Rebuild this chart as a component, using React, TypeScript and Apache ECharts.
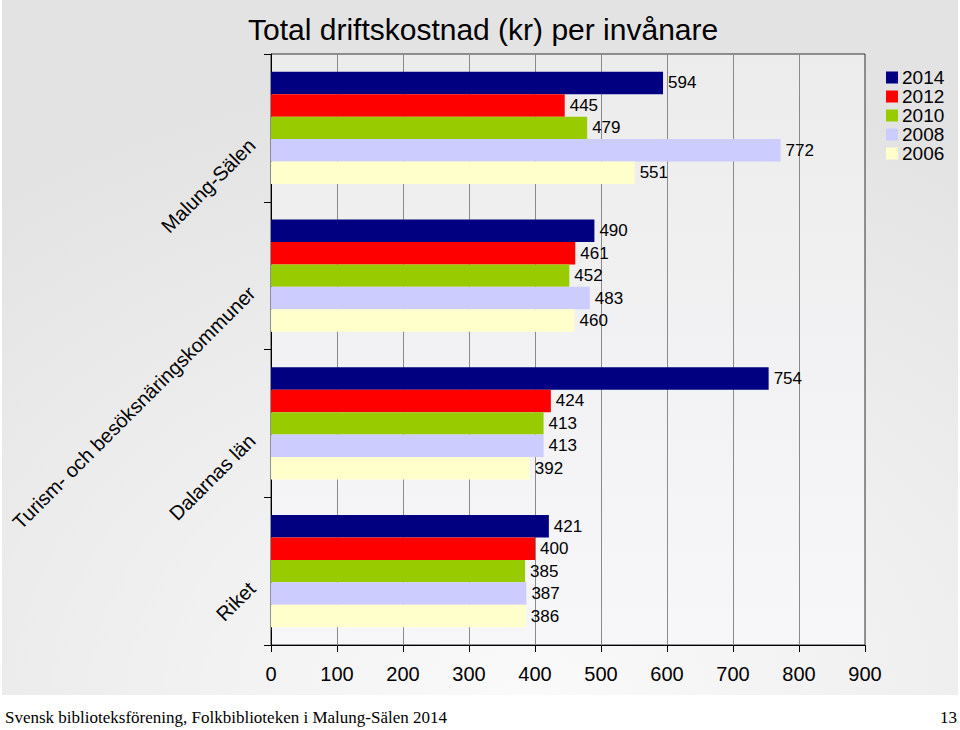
import React, { useEffect, useRef } from "react";
import * as echarts from "echarts";

const categories = ["Malung-Sälen", "Turism- och besöksnäringskommuner", "Dalarnas län", "Riket"];
const years = ["2014", "2012", "2010", "2008", "2006"];
const v2014 = [594, 490, 754, 421];
const v2012 = [445, 461, 424, 400];
const v2010 = [479, 452, 413, 385];
const v2008 = [772, 483, 413, 387];
const v2006 = [551, 460, 392, 386];
const seriesValues = [v2014, v2012, v2010, v2008, v2006];
const colors = ["#000080", "#ff0000", "#99cc00", "#ccccff", "#ffffcc"];
const xTicks = [0, 100, 200, 300, 400, 500, 600, 700, 800, 900];

const FONT = "'Liberation Sans', Arial, sans-serif";

export default function App() {
  const ref = useRef<HTMLDivElement>(null);
  useEffect(() => {
    if (!ref.current) return;
    const chart = echarts.init(ref.current, null, { renderer: "svg" });
    chart.setOption({
      animation: false,
      backgroundColor: "#ffffff",
      textStyle: { fontFamily: FONT },
      title: {
        text: "Total driftskostnad (kr) per invånare",
        left: 243,
        top: 9,
        textStyle: { fontSize: 30, fontWeight: "normal", color: "#000", fontFamily: FONT },
      },
      legend: {
        orient: "vertical",
        left: 881,
        top: 63,
        itemWidth: 12,
        itemHeight: 12,
        itemGap: 0,
        icon: "rect",
        data: years,
        textStyle: { fontSize: 19, lineHeight: 18.75, color: "#000", fontFamily: FONT, padding: [0, 0, 0, -1] },
      },
      grid: {
        left: 271,
        right: 95,
        top: 54,
        bottom: 85,
        show: true,
        borderColor: "#333",
        borderWidth: 1,
        backgroundColor: {
          type: "linear", x: 0, y: 0, x2: 0, y2: 1,
          colorStops: [
            { offset: 0, color: "#ececec" },
            { offset: 1, color: "#f7f7fa" },
          ],
        },
      },
      graphic: [
        {
          type: "rect",
          z: -10,
          silent: true,
          shape: { x: 2, y: 0, width: 956, height: 695 },
          style: {
            fill: {
              type: "radial", x: 0.55, y: 1, r: 0.9,
              colorStops: [
                { offset: 0, color: "#fafafa" },
                { offset: 1, color: "#e3e3e3" },
              ],
            },
          },
        },
        {
          type: "text",
          left: 5,
          top: 709,
          style: {
            text: "Svensk biblioteksförening, Folkbiblioteken i Malung-Sälen 2014",
            font: "17px 'Liberation Serif', 'Times New Roman', serif",
            fill: "#000",
          },
        },
        {
          type: "text",
          right: 3,
          top: 709,
          style: {
            text: "13",
            font: "17px 'Liberation Serif', 'Times New Roman', serif",
            fill: "#000",
          },
        },
      ],
      xAxis: {
        type: "value",
        min: 0,
        max: 900,
        interval: 100,
        axisLine: { show: true, lineStyle: { color: "#000", width: 1 } },
        axisTick: { show: true, length: 7, lineStyle: { color: "#000" } },
        splitLine: { show: true, lineStyle: { color: "#8a8a8a", width: 1 } },
        axisLabel: {
          fontSize: 20,
          color: "#000",
          margin: 19,
          fontFamily: FONT,
          formatter: (v: number) => (xTicks.includes(v) ? String(v) : ""),
        },
      },
      yAxis: {
        type: "category",
        inverse: true,
        data: categories,
        axisLine: { show: true, lineStyle: { color: "#000", width: 1 } },
        axisTick: { show: true, length: 7, lineStyle: { color: "#000" } },
        axisLabel: {
          rotate: 45,
          fontSize: 20,
          color: "#000",
          fontFamily: FONT,
          margin: 5,
          padding: [17, 20, 0, 0],
        },
      },
      series: years.map((y, i) => ({
        name: y,
        type: "bar",
        data: seriesValues[i],
        barGap: "0%",
        barCategoryGap: "24%",
        itemStyle: { color: colors[i] },
        label: {
          show: true,
          position: "right",
          distance: 5,
          fontSize: 17,
          color: "#000",
          fontFamily: FONT,
        },
      })),
    });
    return () => chart.dispose();
  }, []);
  return <div ref={ref} style={{ width: 960, height: 730, position: "absolute", left: 0, top: 0 }} />;
}
